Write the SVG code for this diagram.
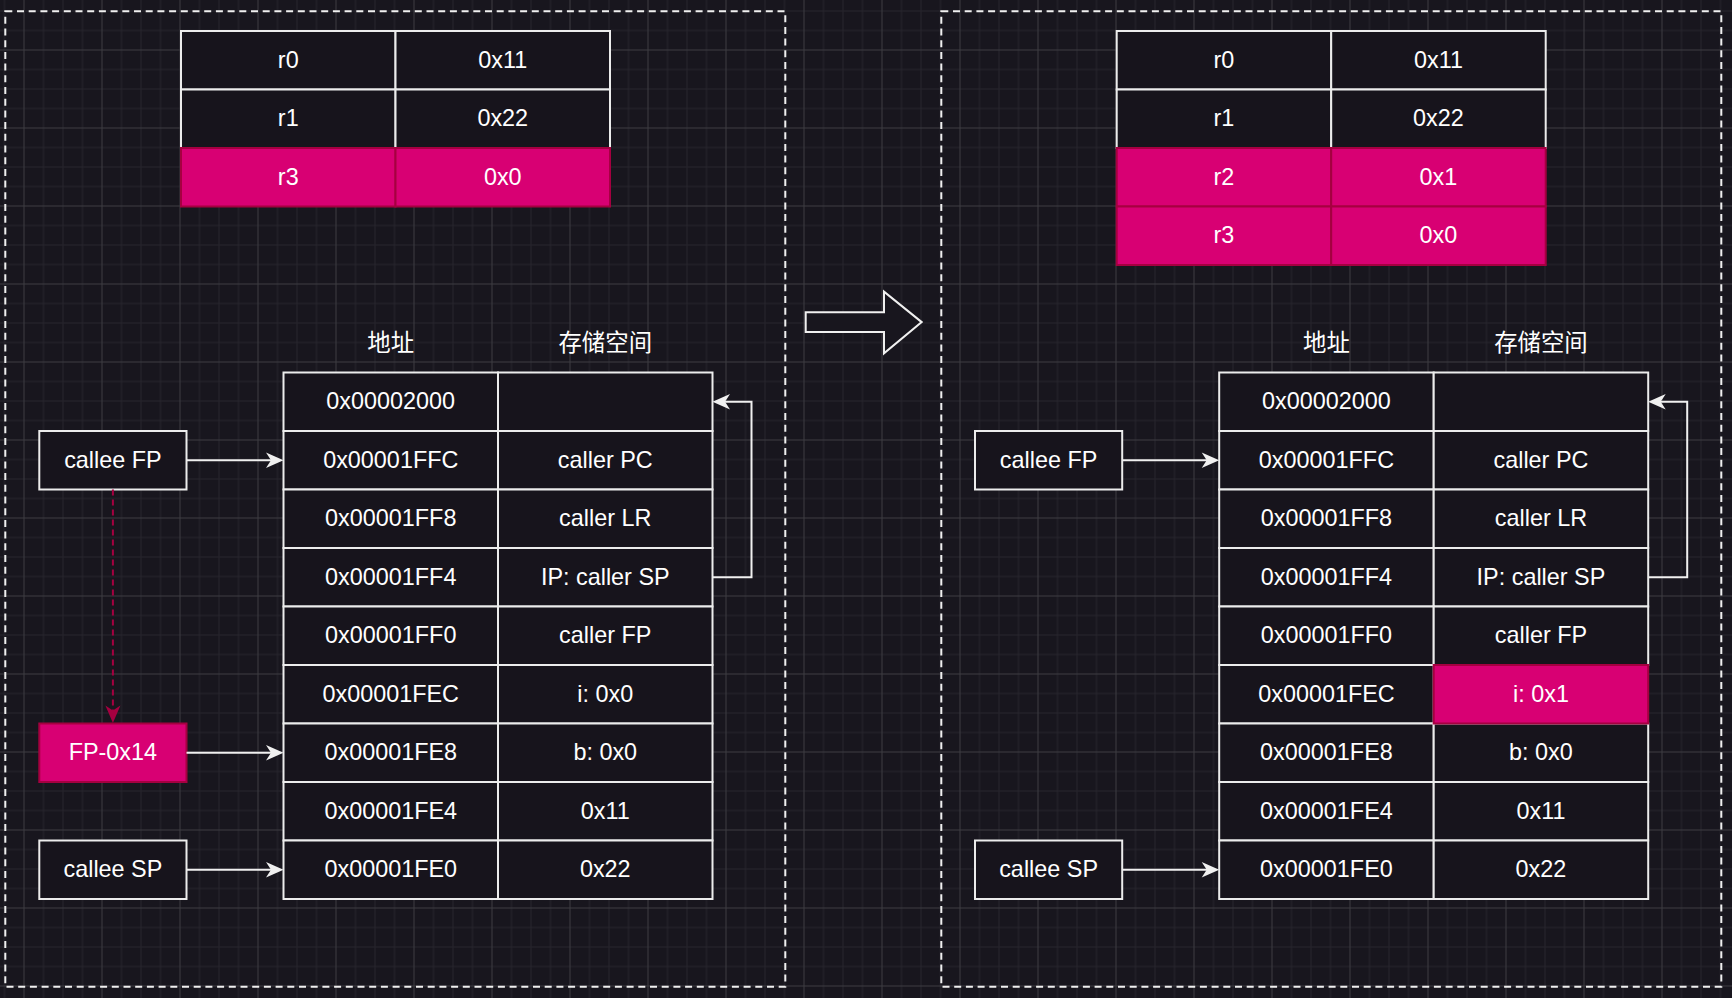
<svg xmlns="http://www.w3.org/2000/svg" width="1732" height="998" viewBox="0 0 1732 998">
<style>
.c{fill:#17141c;stroke:#ececec;stroke-width:2}
.p{fill:#d80073;stroke:#a50040;stroke-width:2}
.t{font-family:"Liberation Sans",Arial,sans-serif;font-size:23.4px;fill:#ffffff;text-anchor:middle}
.h{font-family:"Noto Sans CJK SC","Liberation Sans",sans-serif;font-size:23.4px;fill:#ffffff;text-anchor:middle}
.frame{fill:none;stroke:#f0f0f0;stroke-width:2;stroke-dasharray:7 4.7}
.ln{fill:none;stroke:#f0f0f0;stroke-width:2}
.rd{fill:none;stroke:#a50040;stroke-width:2;stroke-dasharray:6 4}
</style>
<defs>
<pattern id="grid" width="78" height="78" patternUnits="userSpaceOnUse" x="23.5" y="49.5">
<path d="M20,0V78M39.5,0V78M59,0V78M0,20H78M0,39.5H78M0,59H78" stroke="#27252d" stroke-width="1" fill="none"/>
<path d="M0.5,0V78M0,0.5H78" stroke="#3d3c42" stroke-width="1" fill="none"/>
</pattern>
<marker id="ah" viewBox="-10 -10 20 20" markerWidth="20" markerHeight="20" refX="0" refY="0" orient="auto" markerUnits="userSpaceOnUse">
<path d="M-9,-7.8 L8.5,0 L-9,7.8 L-4,0 Z" fill="#f0f0f0"/>
</marker>
<marker id="ahr" viewBox="-10 -10 20 20" markerWidth="20" markerHeight="20" refX="0" refY="0" orient="auto" markerUnits="userSpaceOnUse">
<path d="M-9,-7.5 L8.5,0 L-9,7.5 L-4,0 Z" fill="#a50040"/>
</marker>
</defs>
<rect width="1732" height="998" fill="#18161e"/>
<rect width="1732" height="998" fill="url(#grid)"/>

<g id="frame-left"><rect class="frame" x="5.3" y="11.3" width="780" height="975.4"/></g>
<g id="frame-right"><rect class="frame" x="941.3" y="11.3" width="780" height="975.4"/></g>

<g id="regs-left">
<rect class="c" x="181" y="31" width="214.5" height="58.5"/><rect class="c" x="395.5" y="31" width="214.5" height="58.5"/>
<rect class="c" x="181" y="89.5" width="214.5" height="58.5"/><rect class="c" x="395.5" y="89.5" width="214.5" height="58.5"/>
<rect class="p" x="181" y="148" width="214.5" height="58.5"/><rect class="p" x="395.5" y="148" width="214.5" height="58.5"/>
<text class="t" x="288.25" y="67.6">r0</text><text class="t" x="502.75" y="67.6">0x11</text>
<text class="t" x="288.25" y="126.1">r1</text><text class="t" x="502.75" y="126.1">0x22</text>
<text class="t" x="288.25" y="184.6">r3</text><text class="t" x="502.75" y="184.6">0x0</text>
</g>

<g id="regs-right">
<rect class="c" x="1116.7" y="31" width="214.5" height="58.5"/><rect class="c" x="1331.2" y="31" width="214.5" height="58.5"/>
<rect class="c" x="1116.7" y="89.5" width="214.5" height="58.5"/><rect class="c" x="1331.2" y="89.5" width="214.5" height="58.5"/>
<rect class="p" x="1116.7" y="148" width="214.5" height="58.5"/><rect class="p" x="1331.2" y="148" width="214.5" height="58.5"/>
<rect class="p" x="1116.7" y="206.5" width="214.5" height="58.5"/><rect class="p" x="1331.2" y="206.5" width="214.5" height="58.5"/>
<text class="t" x="1223.95" y="67.6">r0</text><text class="t" x="1438.45" y="67.6">0x11</text>
<text class="t" x="1223.95" y="126.1">r1</text><text class="t" x="1438.45" y="126.1">0x22</text>
<text class="t" x="1223.95" y="184.6">r2</text><text class="t" x="1438.45" y="184.6">0x1</text>
<text class="t" x="1223.95" y="243.1">r3</text><text class="t" x="1438.45" y="243.1">0x0</text>
</g>

<g id="headers-left">
<text class="h" x="390.75" y="351">地址</text>
<text class="h" x="605.25" y="351">存储空间</text>
</g>
<g id="headers-right">
<text class="h" x="1326.45" y="351">地址</text>
<text class="h" x="1540.95" y="351">存储空间</text>
</g>

<g id="stack-left">
<rect class="c" x="283.5" y="372.5" width="214.5" height="58.5"/><rect class="c" x="498" y="372.5" width="214.5" height="58.5"/>
<rect class="c" x="283.5" y="431" width="214.5" height="58.5"/><rect class="c" x="498" y="431" width="214.5" height="58.5"/>
<rect class="c" x="283.5" y="489.5" width="214.5" height="58.5"/><rect class="c" x="498" y="489.5" width="214.5" height="58.5"/>
<rect class="c" x="283.5" y="548" width="214.5" height="58.5"/><rect class="c" x="498" y="548" width="214.5" height="58.5"/>
<rect class="c" x="283.5" y="606.5" width="214.5" height="58.5"/><rect class="c" x="498" y="606.5" width="214.5" height="58.5"/>
<rect class="c" x="283.5" y="665" width="214.5" height="58.5"/><rect class="c" x="498" y="665" width="214.5" height="58.5"/>
<rect class="c" x="283.5" y="723.5" width="214.5" height="58.5"/><rect class="c" x="498" y="723.5" width="214.5" height="58.5"/>
<rect class="c" x="283.5" y="782" width="214.5" height="58.5"/><rect class="c" x="498" y="782" width="214.5" height="58.5"/>
<rect class="c" x="283.5" y="840.5" width="214.5" height="58.5"/><rect class="c" x="498" y="840.5" width="214.5" height="58.5"/>
<text class="t" x="390.75" y="409.1">0x00002000</text>
<text class="t" x="390.75" y="467.6">0x00001FFC</text><text class="t" x="605.25" y="467.6">caller PC</text>
<text class="t" x="390.75" y="526.1">0x00001FF8</text><text class="t" x="605.25" y="526.1">caller LR</text>
<text class="t" x="390.75" y="584.6">0x00001FF4</text><text class="t" x="605.25" y="584.6">IP: caller SP</text>
<text class="t" x="390.75" y="643.1">0x00001FF0</text><text class="t" x="605.25" y="643.1">caller FP</text>
<text class="t" x="390.75" y="701.6">0x00001FEC</text><text class="t" x="605.25" y="701.6">i: 0x0</text>
<text class="t" x="390.75" y="760.1">0x00001FE8</text><text class="t" x="605.25" y="760.1">b: 0x0</text>
<text class="t" x="390.75" y="818.6">0x00001FE4</text><text class="t" x="605.25" y="818.6">0x11</text>
<text class="t" x="390.75" y="877.1">0x00001FE0</text><text class="t" x="605.25" y="877.1">0x22</text>
</g>

<g id="stack-right">
<rect class="c" x="1219.2" y="372.5" width="214.5" height="58.5"/><rect class="c" x="1433.7" y="372.5" width="214.5" height="58.5"/>
<rect class="c" x="1219.2" y="431" width="214.5" height="58.5"/><rect class="c" x="1433.7" y="431" width="214.5" height="58.5"/>
<rect class="c" x="1219.2" y="489.5" width="214.5" height="58.5"/><rect class="c" x="1433.7" y="489.5" width="214.5" height="58.5"/>
<rect class="c" x="1219.2" y="548" width="214.5" height="58.5"/><rect class="c" x="1433.7" y="548" width="214.5" height="58.5"/>
<rect class="c" x="1219.2" y="606.5" width="214.5" height="58.5"/><rect class="c" x="1433.7" y="606.5" width="214.5" height="58.5"/>
<rect class="c" x="1219.2" y="665" width="214.5" height="58.5"/>
<rect class="c" x="1219.2" y="723.5" width="214.5" height="58.5"/><rect class="c" x="1433.7" y="723.5" width="214.5" height="58.5"/>
<rect class="c" x="1219.2" y="782" width="214.5" height="58.5"/><rect class="c" x="1433.7" y="782" width="214.5" height="58.5"/>
<rect class="c" x="1219.2" y="840.5" width="214.5" height="58.5"/><rect class="c" x="1433.7" y="840.5" width="214.5" height="58.5"/>
<rect class="p" x="1433.7" y="665" width="214.5" height="58.5"/>
<text class="t" x="1326.45" y="409.1">0x00002000</text>
<text class="t" x="1326.45" y="467.6">0x00001FFC</text><text class="t" x="1540.95" y="467.6">caller PC</text>
<text class="t" x="1326.45" y="526.1">0x00001FF8</text><text class="t" x="1540.95" y="526.1">caller LR</text>
<text class="t" x="1326.45" y="584.6">0x00001FF4</text><text class="t" x="1540.95" y="584.6">IP: caller SP</text>
<text class="t" x="1326.45" y="643.1">0x00001FF0</text><text class="t" x="1540.95" y="643.1">caller FP</text>
<text class="t" x="1326.45" y="701.6">0x00001FEC</text><text class="t" x="1540.95" y="701.6">i: 0x1</text>
<text class="t" x="1326.45" y="760.1">0x00001FE8</text><text class="t" x="1540.95" y="760.1">b: 0x0</text>
<text class="t" x="1326.45" y="818.6">0x00001FE4</text><text class="t" x="1540.95" y="818.6">0x11</text>
<text class="t" x="1326.45" y="877.1">0x00001FE0</text><text class="t" x="1540.95" y="877.1">0x22</text>
</g>

<g id="callee-fp-left"><rect class="c" x="39.3" y="431" width="147.2" height="58.5"/><text class="t" x="112.9" y="467.6">callee FP</text></g>
<g id="fp-0x14-left"><rect class="p" x="39.3" y="723.5" width="147.2" height="58.5"/><text class="t" x="112.9" y="760.1">FP-0x14</text></g>
<g id="callee-sp-left"><rect class="c" x="39.3" y="840.5" width="147.2" height="58.5"/><text class="t" x="112.9" y="877.1">callee SP</text></g>
<g id="callee-fp-right"><rect class="c" x="975" y="431" width="147.2" height="58.5"/><text class="t" x="1048.6" y="467.6">callee FP</text></g>
<g id="callee-sp-right"><rect class="c" x="975" y="840.5" width="147.2" height="58.5"/><text class="t" x="1048.6" y="877.1">callee SP</text></g>

<g id="big-arrow"><polygon points="805.7,312.3 884,312.3 884,291.7 921.7,322.1 884,353.3 884,332 805.7,332" fill="#18161e" stroke="#f0f0f0" stroke-width="2"/></g>

<g id="connectors">
<path class="ln" d="M186.5,460.25H275" marker-end="url(#ah)"/>
<path class="ln" d="M186.5,752.75H275" marker-end="url(#ah)"/>
<path class="ln" d="M186.5,869.75H275" marker-end="url(#ah)"/>
<path class="ln" d="M712.5,577.25H751.5V401.75H721" marker-end="url(#ah)"/>
<path class="rd" d="M112.9,489.5V714.5" marker-end="url(#ahr)"/>
<path class="ln" d="M1122.2,460.25H1210.7" marker-end="url(#ah)"/>
<path class="ln" d="M1122.2,869.75H1210.7" marker-end="url(#ah)"/>
<path class="ln" d="M1648.2,577.25H1687.2V401.75H1656.7" marker-end="url(#ah)"/>
</g>
</svg>
